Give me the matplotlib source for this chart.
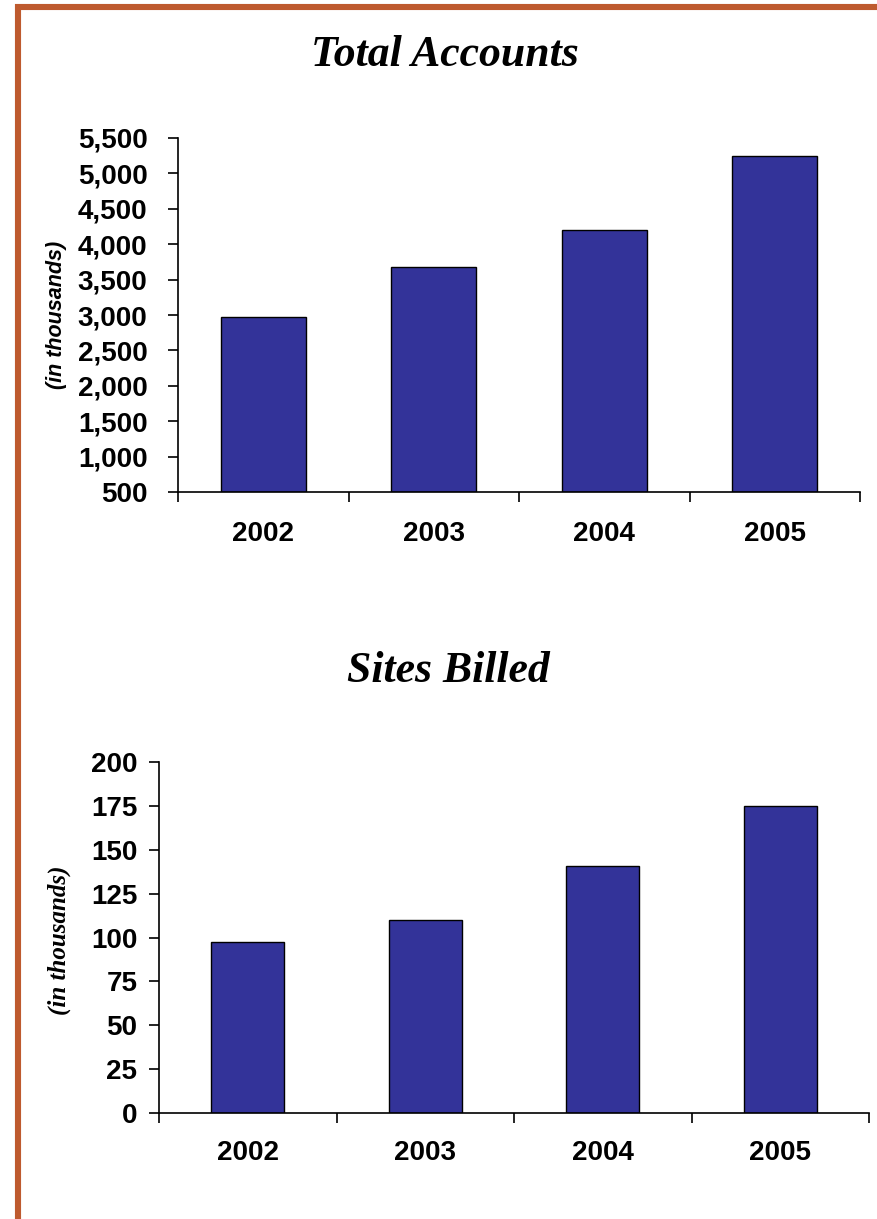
import matplotlib.pyplot as plt
from matplotlib.lines import Line2D
from matplotlib.ticker import FuncFormatter

years = ['2002', '2003', '2004', '2005']
total_accounts = [2970, 3680, 4200, 5240]   # in thousands
sites_billed = [97.5, 110, 140.5, 175]      # in thousands

bar_color = '#333399'
border_color = '#BE5A2E'

fig = plt.figure(figsize=(8.77, 12.19), dpi=100)

# orange frame along the top and left edge
fig.add_artist(Line2D([15 / 877, 1], [1 - 7 / 1219] * 2, color=border_color, lw=4.4,
                      transform=fig.transFigure, solid_capstyle='butt'))
fig.add_artist(Line2D([18 / 877] * 2, [0, 1 - 4 / 1219], color=border_color, lw=4.4,
                      transform=fig.transFigure, solid_capstyle='butt'))

tick_font = {'family': 'Liberation Sans', 'weight': 'bold', 'size': 20}
title_font = {'family': 'Liberation Serif', 'weight': 'bold', 'style': 'italic', 'size': 31.5}


def style_axes(ax, ypad, xpad):
    x = range(len(years))
    ax.set_xlim(-0.5, len(years) - 0.5)
    ax.set_xticks(list(x))
    ax.set_xticklabels(years, **tick_font)
    ax.set_xticks([i - 0.5 for i in range(len(years) + 1)], minor=True)
    ax.tick_params(axis='x', which='major', length=0, pad=xpad)
    ax.tick_params(axis='x', which='minor', length=7, width=1.2, direction='out')
    ax.tick_params(axis='y', length=7, width=1.2, direction='out', pad=ypad)
    for lab in ax.get_yticklabels():
        lab.set_family(tick_font['family'])
        lab.set_weight('bold')
        lab.set_size(tick_font['size'])
    for side in ['top', 'right']:
        ax.spines[side].set_visible(False)
    for side in ['left', 'bottom']:
        ax.spines[side].set_linewidth(1.2)


# Total Accounts
ax1 = fig.add_axes([178 / 877, 1 - 492 / 1219, (860 - 178) / 877, (492 - 138) / 1219])
ax1.bar(range(len(years)), [v - 500 for v in total_accounts], bottom=500, width=0.5,
        color=bar_color, edgecolor='black', linewidth=1.0)
ax1.set_ylim(500, 5500)
ax1.set_yticks(range(500, 5501, 500))
ax1.yaxis.set_major_formatter(FuncFormatter(lambda v, p: f'{int(v):,}'))
style_axes(ax1, ypad=15, xpad=21)
ax1.set_ylabel('(in thousands)', family='Liberation Sans', weight='bold', style='italic',
               size=15.5)
ax1.yaxis.set_label_coords(-0.163, 0.5)
fig.text(445 / 877, 1 - 55 / 1219, 'Total Accounts', ha='center', va='center', **title_font)

# Sites Billed
ax2 = fig.add_axes([159 / 877, 1 - 1113.3 / 1219, (869 - 159) / 877, (1113.3 - 761.7) / 1219])
ax2.bar(range(len(years)), sites_billed, width=0.41,
        color=bar_color, edgecolor='black', linewidth=1.0)
ax2.set_ylim(0, 200)
ax2.set_yticks(range(0, 201, 25))
style_axes(ax2, ypad=8.5, xpad=19)
ax2.set_ylabel('(in thousands)', family='Liberation Serif', weight='bold', style='italic',
               size=18)
ax2.yaxis.set_label_coords(-0.1235, 0.493)
fig.text(448 / 877, 1 - 671 / 1219, 'Sites Billed', ha='center', va='center', **title_font)

fig.savefig('out.png', dpi=100)
